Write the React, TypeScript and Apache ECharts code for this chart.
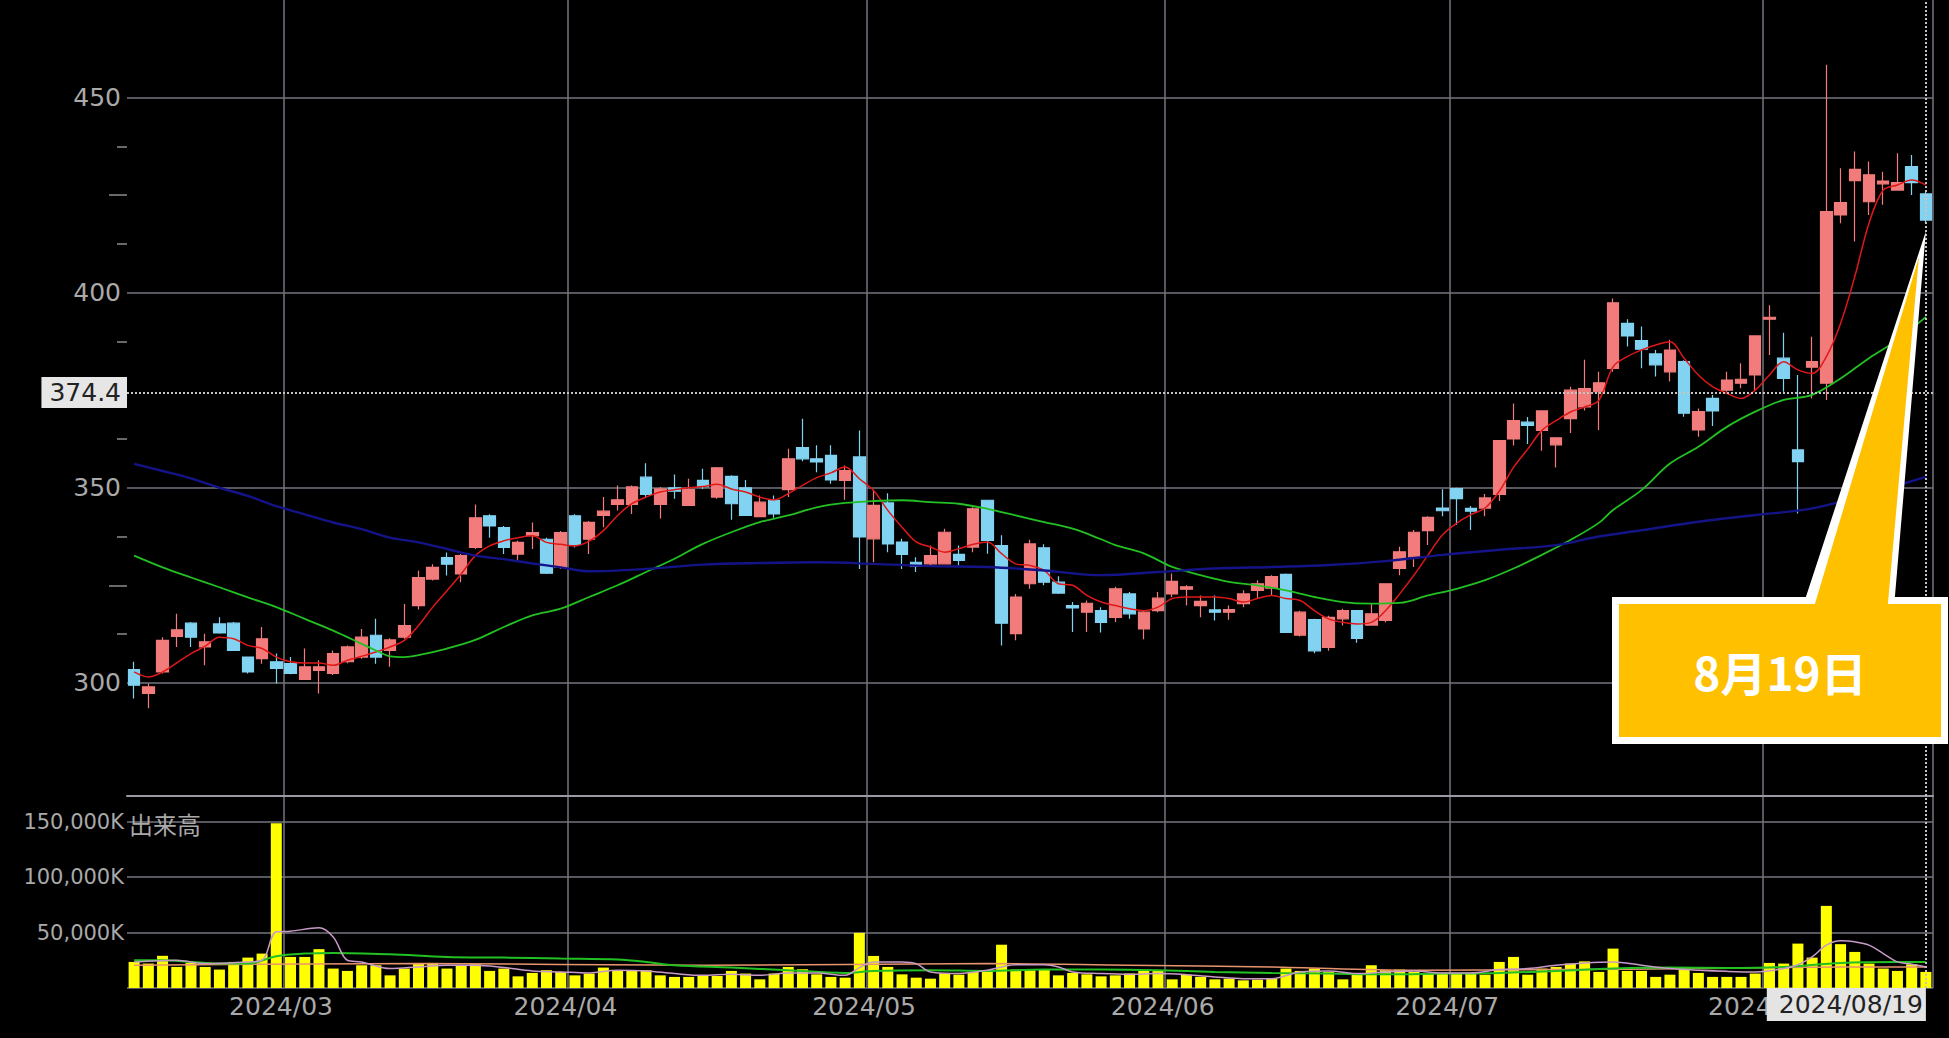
import { useEffect, useRef } from 'react';
import * as echarts from 'echarts';

// ---- trading days (TSE) ----
const FEB_DAYS = [14, 15, 16, 19, 20, 21, 22, 26, 27, 28, 29];
const MAR_DAYS = [1, 4, 5, 6, 7, 8, 11, 12, 13, 14, 15, 18, 19, 21, 22, 25, 26, 27, 28, 29];
const APR_DAYS = [1, 2, 3, 4, 5, 8, 9, 10, 11, 12, 15, 16, 17, 18, 19, 22, 23, 24, 25, 26, 30];
const MAY_DAYS = [1, 2, 7, 8, 9, 10, 13, 14, 15, 16, 17, 20, 21, 22, 23, 24, 27, 28, 29, 30, 31];
const JUN_DAYS = [3, 4, 5, 6, 7, 10, 11, 12, 13, 14, 17, 18, 19, 20, 21, 24, 25, 26, 27, 28];
const JUL_DAYS = [1, 2, 3, 4, 5, 8, 9, 10, 11, 12, 16, 17, 18, 19, 22, 23, 24, 25, 26, 29, 30, 31];
const AUG_DAYS = [1, 2, 5, 6, 7, 8, 9, 13, 14, 15, 16, 19];
const MONTHS: [string, number[]][] = [
  ['02', FEB_DAYS], ['03', MAR_DAYS], ['04', APR_DAYS], ['05', MAY_DAYS],
  ['06', JUN_DAYS], ['07', JUL_DAYS], ['08', AUG_DAYS],
];
const DATES: string[] = [];
MONTHS.forEach(([m, days]) => days.forEach((d) => DATES.push(`2024/${m}/${d < 10 ? '0' + d : d}`)));

// ---- candles: [open, close, low, high] ----
const OHLC: number[][] = [
  [303.4, 299.4, 296, 305.4], [297.3, 299, 293.5, 299.8], [302.8, 310.9, 302.4, 311.7], [311.9, 313.6, 309.2, 317.7],
  [315.3, 311.7, 309.2, 315.6], [309.2, 310.5, 304.5, 312.6], [315.1, 312.8, 312.6, 316.8], [315.3, 308.3, 308.2, 315.6],
  [306.6, 302.8, 302.4, 306.6], [306.2, 311.3, 304.9, 314.3], [305.4, 303.7, 299.8, 307.5], [304.9, 302.4, 302.2, 306.6],
  [300.9, 304.1, 300.7, 308.8], [303.2, 304.1, 297.3, 305.8], [302.4, 307.5, 302, 308.3], [305.4, 309.2, 305, 309.6],
  [306.6, 311.7, 306.2, 313.8], [312.2, 306.6, 304.9, 316.4], [308.3, 311, 304.1, 311.4], [311.7, 314.7, 311.3, 320.2],
  [319.8, 327, 318.8, 328.7], [326.6, 329.6, 326.2, 330.4], [332.1, 330.4, 327.5, 333.4], [327.9, 332.6, 325.8, 333],
  [334.7, 342.3, 334.3, 345.7], [342.8, 340.2, 337.2, 343.2], [339.8, 334.7, 333, 340.2], [333, 336, 331.3, 336.4],
  [337.7, 338.5, 334.3, 341.1], [336.8, 328.1, 327.9, 337.2], [329.6, 338.5, 329.2, 338.9], [342.8, 335.5, 334.7, 343.2],
  [336.8, 341.1, 333, 341.5], [342.9, 344, 339.9, 347.6], [345.7, 346.9, 344.2, 350.6], [345.7, 350.2, 343.3, 350.6],
  [352.7, 348.3, 347.6, 356.3], [345.7, 349.7, 342.1, 350.2], [350, 349.1, 347.2, 353.4], [345.5, 349.5, 345.5, 352.3],
  [351.9, 350.3, 349.7, 354.9], [347.6, 355.1, 347.2, 355.3], [352.9, 345.9, 341.8, 353.2], [350, 342.9, 342.9, 352],
  [342.6, 346.3, 342.5, 348], [346.8, 343.3, 342.3, 348], [349.5, 357.4, 347.6, 360], [360.3, 357.4, 356.8, 367.7],
  [357.4, 356.6, 354, 360.9], [358.3, 352, 351, 360.9], [351.9, 354.4, 346.9, 355.7], [357.9, 337.4, 329.2, 364.7],
  [336.9, 345.5, 330.9, 349.3], [346.1, 335.6, 333.5, 348.6], [336.1, 332.9, 329.2, 336.9], [330.9, 329.9, 328.4, 332.2],
  [330.5, 332.6, 330.1, 335.2], [330.5, 338.6, 330.5, 339.5], [332.9, 331.4, 330.1, 335.2], [334.8, 344.6, 333.5, 345],
  [346.8, 336.5, 333.1, 346.9], [335.2, 315.3, 309.6, 337.8], [312.6, 322, 310.9, 322.8], [325.4, 335.6, 324.1, 336.7],
  [334.6, 325.8, 325, 335.5], [325.8, 323, 322.8, 327.3], [319.8, 319.2, 313, 320.7], [318.1, 320.4, 313, 321.1],
  [318.5, 315.5, 312.9, 319.4], [316.8, 324.1, 315.5, 324.6], [322.8, 317.7, 316.4, 323.3], [313.8, 318.1, 311.2, 318.5],
  [318.5, 321.7, 318.1, 323.3], [322.8, 326, 322, 328], [324, 324.6, 319.8, 325], [319.8, 320.9, 316.8, 322.4],
  [318.7, 318.1, 316, 322.4], [318.1, 318.8, 316.2, 319.8], [320.3, 322.8, 319.4, 323.7], [323.7, 325.4, 321.6, 326.3],
  [324.3, 327.2, 322.4, 327.6], [327.8, 312.9, 312.8, 328], [312.2, 318.1, 311.9, 318.5], [316.2, 308.2, 307.6, 316.4],
  [309.1, 316.8, 308.2, 317.2], [316.4, 318.5, 314.7, 319], [318.5, 311.4, 310.3, 318.5], [314.8, 317.7, 314.7, 320.3],
  [316, 325.4, 315.5, 325.4], [329.3, 333.6, 327.6, 334.9], [332.3, 338.6, 329.7, 339.2], [339, 342.4, 335.3, 342.7],
  [344.8, 344.1, 342.7, 349.6], [349.8, 347.2, 340.5, 350], [344.7, 344, 339.2, 345.3], [344.8, 347.4, 342.7, 348.4],
  [348.3, 362.1, 346.6, 362.2], [362.5, 367.2, 360.8, 371.6], [366.8, 366, 361.2, 368.1], [364.7, 369.7, 359.5, 369.8],
  [361, 362.8, 355.2, 362.9], [367.7, 375, 364, 375.9], [370.7, 375.4, 369.8, 382.8], [374.6, 376.9, 364.8, 379.7],
  [380.6, 397.4, 379.7, 398.5], [392.1, 388.9, 386.2, 393.2], [387.7, 385.5, 380.6, 391.3], [384.3, 381.5, 378.5, 385.3],
  [379.7, 385.3, 377.2, 387.9], [382.3, 369.1, 368.2, 382.7], [364.8, 369.5, 363.1, 370.3], [372.9, 369.7, 365.8, 373.8],
  [375, 377.6, 374.6, 379.7], [376.8, 377.8, 375.5, 381.9], [378.9, 388.9, 375, 389.1], [393.2, 393.7, 384, 396.8],
  [383.2, 378, 374.6, 389.7], [359.7, 356.7, 343.4, 378.9], [380.9, 382.3, 372.9, 388.7], [376.8, 420.8, 372.5, 458.4],
  [419.9, 423.1, 417.8, 431.9], [428.7, 431.6, 413.1, 436.2], [423.3, 430.2, 419.9, 433.6], [427.9, 428.6, 422.5, 431],
  [426.3, 428.2, 426.2, 435.7], [432.3, 428.2, 425, 435.3], [425.3, 418.6, 417.8, 425.9],
];

// ---- price moving averages ----
const MA_SHORT = [
  302.8, 301.5, 302.8, 305.1, 307.5, 309.4, 311.7, 311.3, 309.6, 308.8, 306.6, 305.4, 305.1, 305.1, 304.5, 305.8,
  306.8, 307.9, 309.2, 310.9, 314.7, 319.4, 323.6, 327.9, 332.6, 335.1, 336.4, 337.2, 337.7, 336, 335.5, 335.1,
  336.3, 339, 342.9, 345.9, 347.6, 348.9, 349.5, 350, 350.3, 350.9, 349.7, 348.9, 347.6, 346.9, 348.5, 350.6,
  352.6, 353.8, 355.3, 352.3, 349.3, 344.2, 339.9, 336.1, 334.8, 333.5, 334.4, 335.5, 336.1, 333.1, 330.5, 330.1,
  328.8, 325.4, 325, 322.4, 320.7, 319.8, 319, 318.5, 319.4, 321.6, 322, 322, 322, 321.6, 320.7, 321.6,
  322.4, 321.6, 321.1, 318.5, 316.4, 315.5, 315.1, 315.5, 318.5, 322.8, 327.6, 332.8, 337.9, 340.9, 343.1, 344.8,
  349.1, 355.2, 359.9, 364.7, 367.2, 369.4, 370.7, 372.4, 381, 383.6, 385.3, 386.6, 387.4, 383.2, 378.9, 375.9,
  374.2, 372.9, 375, 378.9, 382.3, 380.2, 379.3, 383.6, 392.1, 404.1, 417.8, 426.3, 427.6, 428.9, 427.6,
];
const MA_MID_IDX = [0, 2, 4, 6, 8, 10, 12, 14, 16, 17, 18, 19, 20, 22, 24, 26, 28, 30, 32, 34, 36, 38, 40, 42, 44, 46,
  48, 50, 52, 54, 56, 58, 60, 62, 64, 66, 68, 69, 71, 73, 75, 77, 79, 81, 83, 85, 87, 89, 91, 93, 95, 97, 99, 101,
  103, 104, 106, 108, 110, 112, 114, 116, 118, 120, 122, 124, 126];
const MA_MID_VAL = [332.6, 329.6, 327, 324.5, 321.9, 319.4, 316.4, 313.4, 310, 308.3, 306.8, 306.6, 307.1, 308.8, 311,
  314.3, 317.3, 319, 322, 325, 328.4, 331.8, 335.6, 338.6, 341.2, 342.9, 345, 346.1, 346.6, 346.8, 346.3, 345.9, 344.6,
  342.9, 341.2, 339.5, 336.8, 335.3, 333.2, 329.7, 327.6, 325.9, 325, 323.7, 322, 320.7, 320.3, 320.5, 322.4, 324.1,
  326.3, 329.3, 332.8, 336.6, 341, 344.3, 349.4, 356.2, 360.5, 365.6, 369.5, 372.5, 373.8, 378, 383.2, 387.9, 393.8];
const MA_LONG_IDX = [0, 2, 4, 6, 8, 10, 12, 14, 16, 18, 20, 22, 24, 26, 28, 30, 32, 36, 40, 44, 48, 52, 56, 60, 64, 68,
  72, 76, 80, 84, 88, 92, 96, 100, 103, 106, 110, 114, 118, 122, 126];
const MA_LONG_VAL = [356.1, 354.3, 352.4, 350, 347.9, 345.3, 343.2, 341.1, 339.4, 337.2, 336, 334.3, 332.6, 331.7, 330.6,
  329.6, 328.6, 329.2, 330.3, 330.7, 330.9, 330.5, 329.9, 329.7, 328.8, 327.6, 328.4, 329.3, 329.7, 330.2, 331.2, 332.8,
  334.1, 335.3, 337.5, 339.1, 341.3, 343, 344.7, 348.5, 352.8];

// ---- volume (thousand shares) ----
const VOLUME = [
  23500, 22000, 29000, 19000, 22600, 19000, 16600, 23500, 27400, 31000, 148500, 28000, 28000, 35000, 17500, 15400,
  20500, 20500, 11400, 17500, 22000, 22600, 17500, 20500, 21400, 15400, 17500, 10500, 13600, 16000, 14500, 11400,
  13000, 18400, 15400, 15400, 16000, 11400, 10000, 10000, 11400, 10800, 15400, 13000, 7800, 13000, 19000, 16900,
  12300, 10000, 9300, 49700, 28900, 19000, 12300, 9300, 8400, 13600, 12000, 14500, 16000, 39000, 16600, 16000,
  16600, 11400, 13600, 12300, 10500, 11400, 13000, 15400, 16000, 7800, 12000, 10000, 7800, 8400, 6900, 7500,
  8400, 17500, 15400, 17500, 14500, 7800, 12000, 20500, 16000, 16600, 14500, 13600, 13600, 13600, 13600, 12000,
  23500, 28000, 12000, 17500, 19000, 22000, 24000, 14500, 35500, 15400, 15400, 10000, 12000, 18000, 13600, 10000,
  10000, 10000, 13000, 22600, 22000, 40000, 27400, 74000, 39500, 32500, 22000, 17500, 15400, 21400, 14500,
];
const VMA_SHORT_IDX = [0, 3, 5, 8, 9, 10, 11, 13, 14, 15, 16, 18, 20, 22, 24, 26, 28, 30, 32, 34, 36, 38, 40, 42, 44, 46,
  48, 50, 51, 52, 54, 55, 56, 58, 60, 61, 62, 64, 65, 66, 68, 70, 72, 74, 76, 78, 80, 82, 84, 86, 88, 90, 92, 94, 96,
  98, 100, 102, 104, 106, 108, 110, 112, 114, 116, 117, 118, 119, 120, 121, 122, 123, 124, 125, 126];
const VMA_SHORT_VAL = [23500, 25000, 22000, 23500, 25000, 50600, 51200, 54200, 46000, 25000, 23500, 17500, 19000, 20500,
  20500, 18400, 15400, 14500, 13600, 16000, 15400, 13000, 11400, 12300, 11400, 13600, 13600, 11400, 18400, 23500,
  23500, 22000, 14500, 13000, 16000, 19000, 21000, 21000, 19000, 14500, 13000, 12300, 13000, 12000, 10000, 8400, 8400,
  14500, 15400, 13000, 14500, 15400, 13600, 13600, 16600, 17500, 20500, 22600, 23500, 20500, 17500, 16000, 15000,
  14500, 17500, 21000, 28000, 38600, 42500, 41600, 38600, 31000, 23500, 21400, 19000];
const VMA_MID_IDX = [0, 2, 4, 6, 8, 10, 12, 14, 18, 22, 26, 30, 34, 36, 38, 42, 46, 50, 52, 56, 60, 64, 68, 72, 76, 80,
  84, 88, 92, 96, 100, 104, 108, 112, 116, 120, 124, 126];
const VMA_MID_VAL = [25000, 25000, 23500, 22000, 22000, 28600, 31000, 31600, 30400, 28000, 27400, 26500, 25600, 23500,
  20500, 18400, 16000, 13600, 15400, 16000, 15400, 16600, 16600, 16000, 14500, 13600, 13000, 12300, 13000, 13600,
  15400, 17500, 18400, 18000, 19000, 22600, 23500, 23500];
const VMA_LONG_IDX = [0, 20, 40, 60, 70, 80, 90, 100, 110, 120, 126];
const VMA_LONG_VAL = [20500, 22000, 20500, 22000, 20500, 19000, 16000, 16600, 17500, 19000, 19000];

const PRICE_LABELS = [300, 350, 400, 450];
const PRICE_MINOR_TICKS = [312.5, 337.5, 362.5, 387.5, 412.5, 437.5];
const PRICE_MID_TICKS = [325, 375, 425];
const VOLUME_LABELS = [50000, 100000, 150000];
const CROSS_PRICE = 374.4;
const CALLOUT_TEXT = '8月19日';
const VOLUME_TITLE = '出来高';

const FONT = '"DejaVu Sans", Verdana, sans-serif';
const CJK = '"Noto Sans CJK JP", sans-serif';
const GRID_C = '#74747f';
const LABEL_C = '#a9a9a9';
const UP = '#f27c7c';
const DOWN = '#82d2f2';

export default function App() {
  const ref = useRef<HTMLDivElement>(null);

  useEffect(() => {
    if (!ref.current) return;
    const chart = echarts.init(ref.current, null, { renderer: 'svg' });
    const last = DATES.length - 1;
    const monthStart = DATES.map((d, i) => i > 0 && d.slice(5, 7) !== DATES[i - 1].slice(5, 7));
    const pairs = (idx: number[], val: number[]) => idx.map((x, k) => [x, val[k]]);
    const vSplit = {
      show: true,
      interval: (i: number) => monthStart[i],
      lineStyle: { color: GRID_C, width: 1.5 },
    };
    const dotted = { type: 'dotted', color: '#c4c4c4', width: 2 };
    const lineBase = { type: 'line', showSymbol: false, symbol: 'none', silent: true, smooth: 0.35 };

    chart.setOption({
      animation: false,
      backgroundColor: '#000',
      grid: [
        { left: 127, right: 16, top: 0, height: 796 },
        { left: 127, right: 16, top: 796, height: 192 },
      ],
      xAxis: [
        {
          type: 'category', gridIndex: 0, data: DATES, boundaryGap: true,
          axisLine: { show: true, lineStyle: { color: '#9a9aa4', width: 2 } },
          axisTick: { show: false }, axisLabel: { show: false },
          splitLine: vSplit,
        },
        {
          type: 'category', gridIndex: 1, data: DATES, boundaryGap: true,
          axisLine: { show: false }, axisTick: { show: false },
          axisLabel: {
            interval: (i: number) => monthStart[i],
            formatter: (v: string) => v.slice(0, 7),
            color: LABEL_C, fontSize: 25, fontFamily: FONT, margin: 6,
            padding: [0, 19, 0, 0],
          },
          splitLine: vSplit,
        },
      ],
      yAxis: [
        {
          type: 'value', gridIndex: 0, min: 271, max: 475, position: 'left',
          axisLine: { show: false }, splitLine: { show: false },
          axisTick: { show: true, customValues: PRICE_MINOR_TICKS, length: 10, lineStyle: { color: '#8c8c8c', width: 1.5 } },
          axisLabel: { customValues: PRICE_LABELS, color: LABEL_C, fontSize: 25, fontFamily: FONT, margin: 6 },
        },
        {
          type: 'value', gridIndex: 0, min: 271, max: 475, position: 'left',
          axisLine: { show: false }, splitLine: { show: false }, axisLabel: { show: false },
          axisTick: { show: true, customValues: PRICE_MID_TICKS, length: 18, lineStyle: { color: '#8c8c8c', width: 1.5 } },
        },
        {
          type: 'value', gridIndex: 1, min: 0, max: 173000, interval: 50000,
          axisLine: { show: false }, axisTick: { show: false },
          splitLine: { show: true, lineStyle: { color: GRID_C, width: 1.5 } },
          axisLabel: {
            customValues: VOLUME_LABELS,
            formatter: (v: number) => `${v.toLocaleString('en-US')}K`,
            color: LABEL_C, fontSize: 21, fontFamily: FONT, margin: 3,
          },
        },
      ],
      series: [
        {
          type: 'candlestick', xAxisIndex: 0, yAxisIndex: 0, data: OHLC, barWidth: 12,
          itemStyle: { color: UP, color0: DOWN, borderColor: UP, borderColor0: DOWN, borderWidth: 1.2 },
          markLine: {
            silent: true, symbol: ['none', 'none'], animation: false,
            data: [
              {
                yAxis: CROSS_PRICE, lineStyle: dotted,
                label: {
                  show: true, position: 'start', distance: 0, formatter: String(CROSS_PRICE),
                  backgroundColor: '#e6e6e6', color: '#222', fontSize: 25, fontFamily: FONT,
                  padding: [3, 6, 3, 8],
                },
              },
              { xAxis: DATES[last], lineStyle: dotted, label: { show: false } },
            ],
          },
        },
        { ...lineBase, xAxisIndex: 0, yAxisIndex: 0, data: MA_SHORT, lineStyle: { color: '#e01818', width: 1.5 } },
        { ...lineBase, xAxisIndex: 0, yAxisIndex: 0, data: pairs(MA_MID_IDX, MA_MID_VAL), lineStyle: { color: '#22c022', width: 1.8 } },
        {
          ...lineBase, xAxisIndex: 0, yAxisIndex: 0, data: pairs(MA_LONG_IDX, MA_LONG_VAL),
          lineStyle: { color: '#141488', width: 2.4 },
          markLine: {
            z: 1, silent: true, symbol: ['none', 'none'], animation: false,
            label: { show: false },
            lineStyle: { color: GRID_C, width: 1.5, type: 'solid' },
            data: PRICE_LABELS.map((v) => ({ yAxis: v })),
          },
        },
        {
          type: 'bar', xAxisIndex: 1, yAxisIndex: 2, data: VOLUME, barWidth: 11,
          itemStyle: { color: '#ffff00' },
          markLine: {
            silent: true, symbol: ['none', 'none'], animation: false,
            data: [
              {
                xAxis: DATES[last], lineStyle: dotted,
                label: {
                  show: true, position: 'start', distance: 0, formatter: DATES[last],
                  align: 'right', verticalAlign: 'top',
                  backgroundColor: '#e4e4e4', color: '#222', fontSize: 25, fontFamily: FONT,
                  padding: [4, 3, 4, 12],
                },
              },
            ],
          },
        },
        { ...lineBase, xAxisIndex: 1, yAxisIndex: 2, data: pairs(VMA_LONG_IDX, VMA_LONG_VAL), lineStyle: { color: '#e8946e', width: 1.5 } },
        { ...lineBase, xAxisIndex: 1, yAxisIndex: 2, data: pairs(VMA_MID_IDX, VMA_MID_VAL), lineStyle: { color: '#22c022', width: 2 } },
        { ...lineBase, xAxisIndex: 1, yAxisIndex: 2, data: pairs(VMA_SHORT_IDX, VMA_SHORT_VAL), lineStyle: { color: '#c89ac8', width: 1.5 } },
      ],
    });

    // callout pointing at the last candle
    const [ax, ay] = chart.convertToPixel({ gridIndex: 0 }, [last, OHLC[last][2]]) as number[];
    const box = { x: 1612, y: 597, w: 336, h: 147, b: 7 };
    const outer = [
      [box.x, box.y], [ax - 120, box.y], [ax, ay + 8], [ax - 31, box.y], [box.x + box.w, box.y],
      [box.x + box.w, box.y + box.h], [box.x, box.y + box.h],
    ];
    const ib = { x: box.x + box.b, y: box.y + box.b, w: box.w - 2 * box.b, h: box.h - 2 * box.b };
    const inner = [
      [ib.x, ib.y], [ax - 111, ib.y], [ax - 7, ay + 34], [ax - 38, ib.y], [ib.x + ib.w, ib.y],
      [ib.x + ib.w, ib.y + ib.h], [ib.x, ib.y + ib.h],
    ];
    chart.setOption({
      graphic: [
        {
          type: 'text', x: 129, y: 823, z: 50,
          style: { text: VOLUME_TITLE, fill: LABEL_C, font: `24px ${CJK}`, align: 'left', verticalAlign: 'middle', textAlign: 'left', textVerticalAlign: 'middle' },
        },
        { type: 'polygon', z: 100, shape: { points: outer }, style: { fill: '#ffffff' } },
        { type: 'polygon', z: 101, shape: { points: inner }, style: { fill: '#ffc000' } },
        {
          type: 'text', x: ib.x + ib.w / 2, y: ib.y + ib.h / 2, z: 102,
          style: { text: CALLOUT_TEXT, fill: '#ffffff', font: `bold 46px ${CJK}`, align: 'center', verticalAlign: 'middle', textAlign: 'center', textVerticalAlign: 'middle' },
        },
      ],
    });

    return () => chart.dispose();
  }, []);

  return (
    <div
      ref={ref}
      style={{ position: 'fixed', left: 0, top: 0, width: 1949, height: 1038, background: '#000' }}
    />
  );
}
